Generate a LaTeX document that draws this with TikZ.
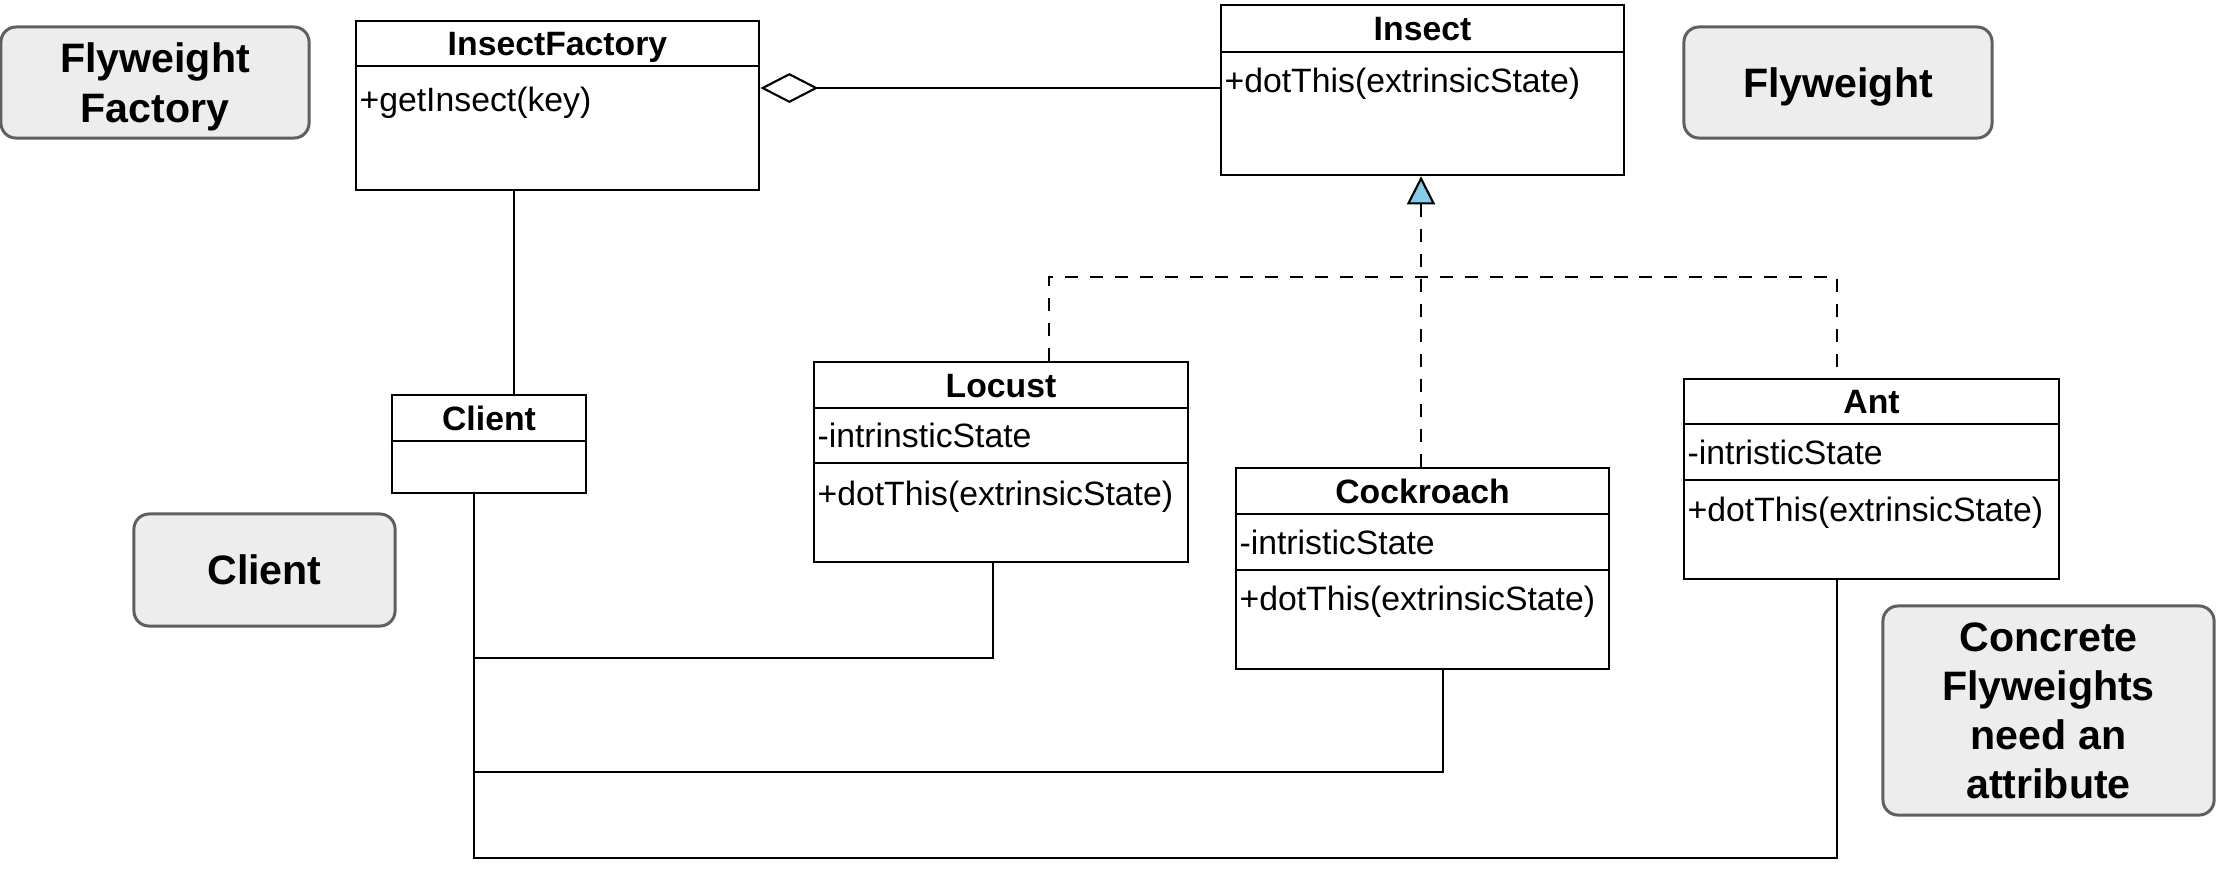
\documentclass[tikz,border=0pt]{standalone}
\usepackage{fontspec}
\setmainfont{Liberation Sans}
\usetikzlibrary{arrows.meta}
\definecolor{notefill}{HTML}{EDEDED}
\definecolor{noteline}{HTML}{5F5F5F}
\definecolor{trifill}{HTML}{86CBE8}
\begin{document}
\begin{tikzpicture}[x=0.01cm,y=-0.01cm,
  classbox/.style={draw=black, line width=0.7pt, fill=white, inner sep=0pt},
  divider/.style={line width=0.7pt},
  cname/.style={font=\fontsize{9.6}{11}\selectfont\bfseries, inner sep=0pt, text height=0.8em, text depth=0.1em},
  member/.style={font=\fontsize{9.6}{11}\selectfont, anchor=west, inner xsep=1.2pt, inner ysep=0pt, text height=0.8em, text depth=0.1em},
  note/.style={draw=noteline, fill=notefill, rounded corners=4.3pt, line width=0.85pt, font=\fontsize{11.7}{14}\selectfont\bfseries, align=center, inner sep=0pt, text depth=0pt},
  conn/.style={line width=0.6pt},
  realize/.style={conn, dash pattern=on 3.7pt off 3.4pt},
]
\useasboundingbox (0,0) rectangle (2216,881);

% notes
\node[note, minimum width=3.08cm, minimum height=1.11cm] (nFF) at (155,82.5) {Flyweight\\Factory};
\node[note, minimum width=3.08cm, minimum height=1.11cm] (nFW) at (1838,82.5) {Flyweight};
\node[note, minimum width=2.61cm, minimum height=1.12cm] (nCl) at (264.5,570) {Client};
\node[note, minimum width=3.31cm, minimum height=2.09cm] (nCF) at (2048.5,710.5) {Concrete\\Flyweights\\need an\\attribute};

% InsectFactory
\node[classbox, minimum width=4.03cm, minimum height=1.69cm] (IF) at (557.5,105.5) {};
\draw[divider] (IF.west |- 0,66) -- (IF.east |- 0,66);
\node[cname] (IFn) at (557.5,43.5) {InsectFactory};
\node[member] (IFm) at (IF.west |- 0,99) {+getInsect(key)};

% Insect
\node[classbox, minimum width=4.03cm, minimum height=1.70cm] (Insect) at (1422.5,90) {};
\draw[divider] (Insect.west |- 0,52) -- (Insect.east |- 0,52);
\node[cname] (Insectn) at (1422.5,28.5) {Insect};
\node[member] (Insectm) at (Insect.west |- 0,80) {+dotThis(extrinsicState)};

% Client
\node[classbox, minimum width=1.94cm, minimum height=0.98cm] (Client) at (489,444) {};
\draw[divider] (Client.west |- 0,441) -- (Client.east |- 0,441);
\node[cname] (Clientn) at (489,418) {Client};

% Locust
\node[classbox, minimum width=3.74cm, minimum height=2.00cm] (Locust) at (1001,462) {};
\draw[divider] (Locust.west |- 0,408) -- (Locust.east |- 0,408);
\draw[divider] (Locust.west |- 0,463) -- (Locust.east |- 0,463);
\node[cname] (Locustn) at (1001,385) {Locust};
\node[member] (Locusta) at (Locust.west |- 0,435.5) {-intrinsticState};
\node[member] (Locustm) at (Locust.west |- 0,493) {+dotThis(extrinsicState)};

% Cockroach
\node[classbox, minimum width=3.73cm, minimum height=2.01cm] (Cockroach) at (1422.5,568.5) {};
\draw[divider] (Cockroach.west |- 0,514) -- (Cockroach.east |- 0,514);
\draw[divider] (Cockroach.west |- 0,570) -- (Cockroach.east |- 0,570);
\node[cname] (Cockroachn) at (1422.5,491) {Cockroach};
\node[member] (Cockroacha) at (Cockroach.west |- 0,542) {-intristicState};
\node[member] (Cockroachm) at (Cockroach.west |- 0,598) {+dotThis(extrinsicState)};

% Ant
\node[classbox, minimum width=3.75cm, minimum height=2.00cm] (Ant) at (1871.5,479) {};
\draw[divider] (Ant.west |- 0,424) -- (Ant.east |- 0,424);
\draw[divider] (Ant.west |- 0,480) -- (Ant.east |- 0,480);
\node[cname] (Antn) at (1871.5,401.5) {Ant};
\node[member] (Anta) at (Ant.west |- 0,452) {-intristicState};
\node[member] (Antm) at (Ant.west |- 0,509) {+dotThis(extrinsicState)};

% aggregation
\draw[conn, {Diamond[open, length=16.5pt, width=8.5pt]}-] (IF.east |- 0,88) -- (Insect.west |- 0,88);

% factory - client
\draw[conn] (IF.south -| 514,0) -- (Client.north -| 514,0);

% realization
\coordinate (bus) at (1421,277);
\draw[realize, -{Triangle[length=8pt, width=8pt, fill=trifill]}] (Cockroach.north -| 1421,0) -- (Insect.south -| 1421,0);
\draw[realize] (Locust.north -| 1049,0) |- (bus) -| (Ant.north -| 1837,0);

% client associations
\coordinate (c1) at (474,658);
\coordinate (c2) at (474,772);
\draw[conn] (Client.south -| 474,0) -- (474,858) -| (Ant.south -| 1837,0);
\draw[conn] (c1) -| (Locust.south -| 993,0);
\draw[conn] (c2) -| (Cockroach.south -| 1443,0);
\end{tikzpicture}
\end{document}
